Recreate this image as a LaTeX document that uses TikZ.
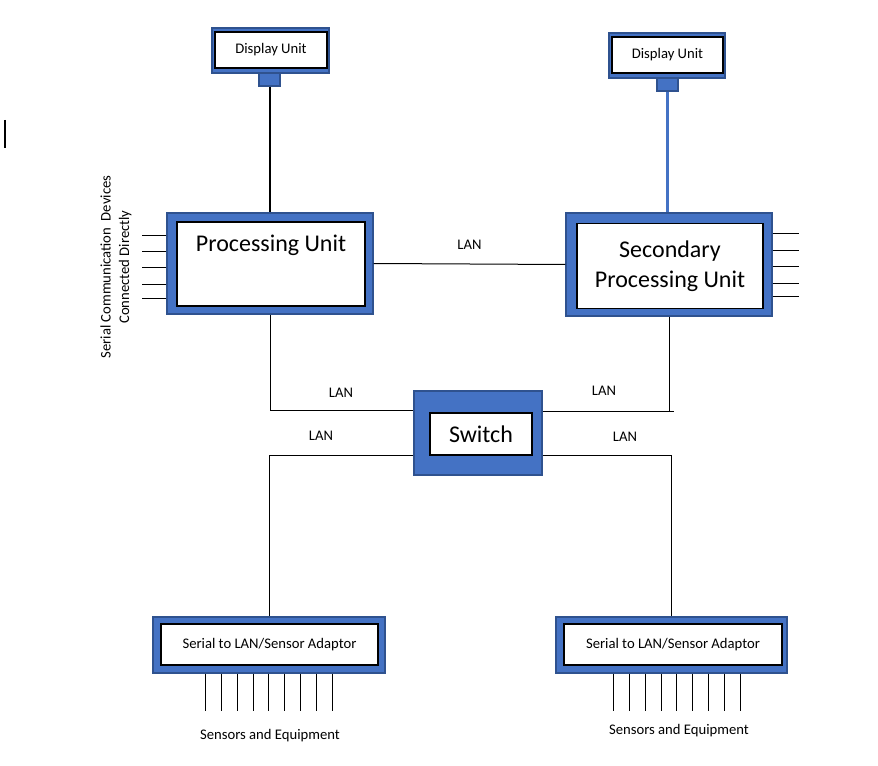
\documentclass[tikz,border=0pt]{standalone}
\usepackage{fontspec}
\setmainfont{Carlito}
\usepackage{xcolor}
\usepackage{tikz}
\usetikzlibrary{positioning,calc}
\definecolor{unitblue}{HTML}{4472C4}
\definecolor{unitedge}{HTML}{2F528F}
\newcommand{\upx}{0.75pt}
\newcommand{\bigtxt}{\fontsize{18pt}{22.5pt}\selectfont}
\newcommand{\midtxt}{\fontsize{11pt}{14pt}\selectfont}
\tikzset{
  unitframe/.style 2 args={draw=unitedge, fill=unitblue, line width=0.8pt, inner sep=0pt, minimum width=#1*\upx, minimum height=#2*\upx},
  unitpanel/.style 2 args={draw=black, fill=white, line width=0.8pt, inner sep=0pt, minimum width=#1*\upx, minimum height=#2*\upx, align=center},
  wire/.style={line width=0.75pt},
}
\begin{document}
\begin{tikzpicture}[x=\upx, y=-\upx, font=\midtxt]
  \useasboundingbox (0,0) rectangle (878,766);
  \node[unitframe={117}{45}] (du1) at (270.5,50.5){};
  \node[unitpanel={112}{36}] (du1in) at (271,50){Display Unit};
  \node[unitframe={21}{13}] (du1port) at (269.5,79.5){};
  \node[unitframe={116}{45}] (du2) at (667,55.5){};
  \node[unitpanel={111}{36}] (du2in) at (667.5,55){Display Unit};
  \node[unitframe={21}{13}] (du2port) at (667.5,84.5){};
  \node[unitframe={206}{101}] (pu) at (270,263.5){};
  \node[unitpanel={188}{84}] (puin) at (271,264){};
  \node[font=\bigtxt] (putxt) at (271,245){Processing Unit};
  \node[unitframe={206}{103}] (spu) at (669,264.5){};
  \node[unitpanel={186}{85}, font=\bigtxt] (spuin) at (670,266){Secondary\\Processing Unit};
  \node[unitframe={128}{84}] (sw) at (478,433){};
  \node[unitpanel={102}{42}, font=\bigtxt] (swin) at (481,434){Switch};
  \node[unitframe={232}{56}] (ad1) at (269,645){};
  \node[unitpanel={217}{41}] (ad1in) at (269.5,644.5){Serial to LAN/Sensor Adaptor};
  \node[unitframe={231}{56}] (ad2) at (671.5,645){};
  \node[unitpanel={218}{41}] (ad2in) at (673,644.5){Serial to LAN/Sensor Adaptor};
  \coordinate (swl1) at (sw.west |- 0,411);
  \coordinate (swl2) at (sw.west |- 0,455);
  \coordinate (swr1) at (sw.east |- 0,412);
  \coordinate (swr2) at (sw.east |- 0,455);
  \coordinate (swr1end) at (674,412);
  \draw[line width=1.5pt] (du1port.south) -- (du1port.south |- pu.north);
  \draw[line width=2.25pt, unitblue] (du2port.south) -- (du2port.south |- spu.north);
  \draw[wire] (pu.east) -- (spu.west) node[pos=0.5, above=7pt]{LAN};
  \draw[wire] (pu.south) |- (swl1);
  \draw[wire] (spu.south) -- (spu.south |- swr1);
  \draw[wire] (swr1) -- (swr1end);
  \draw[wire] (swl2) -| (ad1.north);
  \draw[wire] (swr2) -| (ad2.north);
  \node (lan2) at (341,393){LAN};
  \node (lan3) at (604,391){LAN};
  \node (lan4) at (321,436){LAN};
  \node (lan5) at (625,437){LAN};
  \foreach \y in {236,252,268,285,299} \draw[wire] (pu.west |- 0,\y) -- ++(-24,0);
  \foreach \y in {234,251,267,284,297} \draw[wire] (spu.east |- 0,\y) -- ++(26,0);
  \foreach \x in {205,221,237,253,268,284,300,316,332} \draw[wire] (ad1.south -| \x,0) -- ++(0,37);
  \foreach \x in {613,629,645,661,676,692,708,724,740} \draw[wire] (ad2.south -| \x,0) -- ++(0,37);
  \node[rotate=90, align=center] (serlbl) at (116,267){Serial Communication\ \ Devices\\Connected Directly};
  \node (sens1) at (270,736){Sensors and Equipment};
  \node (sens2) at (679,731){Sensors and Equipment};
  \draw[line width=0.9pt] (5,120) -- (5,148);
\end{tikzpicture}
\end{document}
